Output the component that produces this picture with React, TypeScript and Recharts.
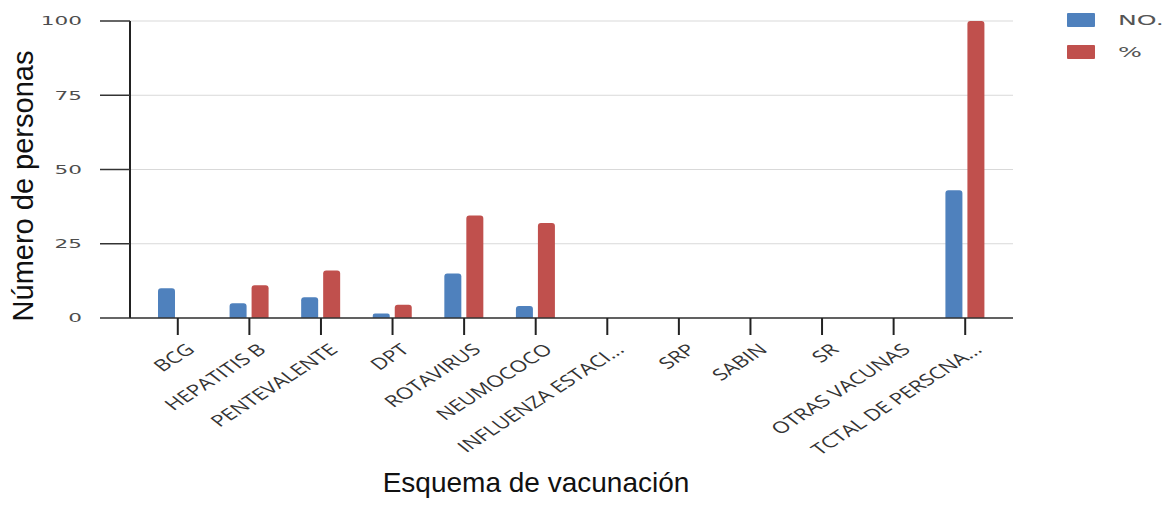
import React from "react";
import { BarChart, Bar, XAxis, YAxis, CartesianGrid, Label } from "recharts";

const categories = [
  "BCG",
  "HEPATITIS B",
  "PENTEVALENTE",
  "DPT",
  "ROTAVIRUS",
  "NEUMOCOCO",
  "INFLUENZA ESTACI...",
  "SRP",
  "SABIN",
  "SR",
  "OTRAS VACUNAS",
  "TCTAL DE PERSCNA...",
];
const numero = [10, 5, 7, 1.5, 15, 4, 0, 0, 0, 0, 0, 43];
const porcentaje = [0, 11, 16, 4.5, 34.5, 32, 0, 0, 0, 0, 0, 100];
const yTicks = [0, 25, 50, 75, 100];

const data = categories.map((name, i) => ({
  name,
  no: numero[i],
  pct: porcentaje[i],
}));

const BLUE = "#4F81BD";
const RED = "#C0504D";
const STRETCH = 1.4;

const XTick = (props: any) => {
  const { x, y, payload } = props;
  return (
    <g transform={`translate(${x + 18},${y + 14}) scale(${STRETCH},1) rotate(-42)`}>
      <text
        x={0}
        y={0}
        textAnchor="end"
        fontFamily="'Open Sans', sans-serif"
        fontSize={16}
        fill="#333"
      >
        {payload.value}
      </text>
    </g>
  );
};

const YTick = (props: any) => {
  const { x, y, payload } = props;
  return (
    <g transform={`translate(${x},${y}) scale(1.8,1)`}>
      <text
        x={0}
        y={0}
        dy="0.36em"
        textAnchor="end"
        fontFamily="'DejaVu Sans', sans-serif"
        fontSize={12}
        fill="#4d4d4d"
      >
        {payload.value}
      </text>
    </g>
  );
};

const legendItems = [
  { label: "NO.", color: BLUE },
  { label: "%", color: RED },
];

const LegendBox = () => (
  <svg
    width={110}
    height={70}
    style={{ position: "absolute", left: 1067, top: 13 }}
  >
    {legendItems.map((it, i) => (
      <g key={it.label} transform={`translate(0,${i * 32})`}>
        <rect x={0} y={0} width={28} height={14} fill={it.color} rx={1} />
        <g transform={`translate(51,7) scale(1.8,1)`}>
          <text
            x={0}
            y={0}
            dy="0.36em"
            fontFamily="'DejaVu Sans', sans-serif"
            fontSize={14}
            fill="#555"
          >
            {it.label}
          </text>
        </g>
      </g>
    ))}
  </svg>
);

export default function App() {
  return (
    <div style={{ position: "absolute", left: 0, top: 0, width: 1171, height: 506, background: "#fff" }}>
      <BarChart
        width={1171}
        height={506}
        data={data}
        margin={{ top: 21, right: 158, left: 0, bottom: 0 }}
        barSize={17}
        barGap={5}
      >
        <CartesianGrid vertical={false} stroke="#d9d9d9" />
        <XAxis
          dataKey="name"
          interval={0}
          height={188}
          padding={{ left: 12, right: 12 }}
          axisLine={{ stroke: "#333", strokeWidth: 1.5 }}
          tickLine={{ stroke: "#222", strokeWidth: 2 }}
          tickSize={17}
          tick={<XTick />}
        >
          <Label
            content={() => (
              <text
                x={536}
                y={492}
                textAnchor="middle"
                fontFamily="'Liberation Sans', Arial, sans-serif"
                fontSize={28}
                fill="#111"
              >
                Esquema de vacunación
              </text>
            )}
          />
        </XAxis>
        <YAxis
          width={130}
          domain={[0, 100]}
          ticks={yTicks}
          axisLine={{ stroke: "#222", strokeWidth: 2 }}
          tickLine={{ stroke: "#333", strokeWidth: 1.5 }}
          tickSize={30}
          tickMargin={18}
          tick={<YTick />}
        >
          <Label
            content={() => (
              <text
                x={33}
                y={186}
                transform="rotate(-90 33 186)"
                textAnchor="middle"
                fontFamily="'Liberation Sans', Arial, sans-serif"
                fontSize={29}
                fill="#111"
              >
                Número de personas
              </text>
            )}
          />
        </YAxis>
        <Bar dataKey="no" name="NO." fill={BLUE} radius={[3, 3, 0, 0]} isAnimationActive={false} />
        <Bar dataKey="pct" name="%" fill={RED} radius={[3, 3, 0, 0]} isAnimationActive={false} />
      </BarChart>
      <LegendBox />
    </div>
  );
}
